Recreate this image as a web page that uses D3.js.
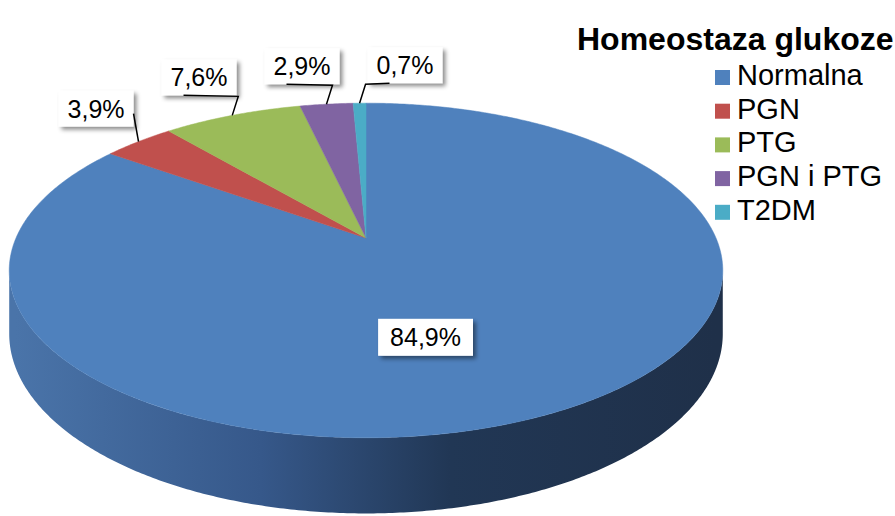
<!DOCTYPE html>
<html>
<head>
<meta charset="utf-8">
<script src="https://cdn.jsdelivr.net/npm/d3@7"></script>
<style>
  body { margin: 0; background: #fff; }
  svg { display: block; font-family: "Liberation Sans", Arial, sans-serif; }
</style>
</head>
<body>
<svg id="chart" width="895" height="516"></svg>
<script>
// chart data
var categories = ["Normalna", "PGN", "PTG", "PGN i PTG", "T2DM"];
var values = [84.9, 3.9, 7.6, 2.9, 0.7];
var labels = ["84,9%", "3,9%", "7,6%", "2,9%", "0,7%"];
var colors = ["#4f81bd", "#c0504d", "#9bbb59", "#8064a2", "#4bacc6"];
var title = "Homeostaza glukoze";

var svg = d3.select("#chart");

// 3d pie geometry (perspective tilt)
var cx = 366, cy = 238,
    rx = 350, ry = 161, depth = 61, k = 0.194;

// angle a: clockwise from 12 o'clock, r: 0..1 of radius, z: 0 top .. 1 bottom
function proj(a, r, z) {
  var u = r * Math.sin(a), v = -r * Math.cos(a);
  var s = 1 / (1 - k * v);
  return [cx + rx * u * s, cy + (ry * v + depth * (z || 0)) * s];
}

var pie = d3.pie().sort(null).value(function(d) { return d; });
var arcs = pie(values);

var line = d3.line();

function rim(a0, a1, z) {
  var n = Math.max(2, Math.ceil((a1 - a0) / (Math.PI / 360)));
  return d3.range(n + 1).map(function(i) { return proj(a0 + (a1 - a0) * i / n, 1, z); });
}

var defs = svg.append("defs");

var grad = defs.append("linearGradient")
    .attr("id", "side")
    .attr("gradientUnits", "userSpaceOnUse")
    .attr("x1", cx - rx).attr("x2", cx + rx)
    .attr("y1", 0).attr("y2", 0);
grad.append("stop").attr("offset", "0%").attr("stop-color", "#4a74a9");
grad.append("stop").attr("offset", "35%").attr("stop-color", "#36588a");
grad.append("stop").attr("offset", "62%").attr("stop-color", "#213755");
grad.append("stop").attr("offset", "100%").attr("stop-color", "#1f3049");

var shadow = defs.append("filter").attr("id", "shadow")
    .attr("x", "-20%").attr("y", "-20%").attr("width", "150%").attr("height", "160%");
shadow.append("feDropShadow")
    .attr("dx", 3).attr("dy", 3).attr("stdDeviation", 2)
    .attr("flood-color", "#000").attr("flood-opacity", 0.45);

// side wall (front part only is visible)
var aRight = Math.acos(-k), aLeft = 2 * Math.PI - Math.acos(-k);
var sidePts = rim(aRight, aLeft, 0).concat(rim(aRight, aLeft, 1).reverse());
svg.append("path")
    .attr("d", line(sidePts) + "Z")
    .attr("fill", "url(#side)");

// top faces
svg.selectAll("path.slice")
  .data(arcs)
  .enter().append("path")
    .attr("class", "slice")
    .attr("d", function(d) {
      return line([proj(0, 0, 0)].concat(rim(d.startAngle, d.endAngle, 0))) + "Z";
    })
    .attr("fill", function(d, i) { return colors[i]; })
    .attr("stroke", function(d, i) { return colors[i]; })
    .attr("stroke-width", 0.5);

// data labels
var fontSize = 25, padX = 9, boxH = 36;
var prevRight = -Infinity;

arcs.forEach(function(d, i) {
  var mid = (d.startAngle + d.endAngle) / 2;
  var g = svg.append("g");
  var rect = g.append("rect").attr("fill", "#fff").attr("filter", "url(#shadow)");
  var txt = g.append("text")
      .attr("font-size", fontSize)
      .attr("text-anchor", "middle")
      .attr("fill", "#000")
      .text(labels[i]);
  var w = txt.node().getComputedTextLength() + 2 * padX;

  if (d.value > 50) {
    var c = proj(mid, 0.35, 0.7);
    rect.attr("x", c[0] - w / 2 - 3).attr("y", c[1] - boxH / 2)
        .attr("width", w + 6).attr("height", boxH + 1);
    txt.attr("x", c[0]).attr("y", c[1] + 9);
    return;
  }

  var p = proj(mid, 1, 0);
  var top = [p[0] - 5, p[1] - 28];
  var right = top[0], left = right - w, bottom = top[1] + 13;
  var pts = [p, top];
  if (left < prevRight + 20) {
    // collides with the previous label: push it to the right
    left = prevRight + 28;
    right = left + w;
    bottom = p[1] - 20;
    pts = [p, [p[0] + 6, bottom + 1], [left + 22, bottom]];
  }
  prevRight = right;

  rect.attr("x", left).attr("y", bottom - boxH)
      .attr("width", w).attr("height", boxH);
  txt.attr("x", (left + right) / 2).attr("y", bottom - 9);

  svg.append("path")
      .attr("d", line(pts))
      .attr("fill", "none")
      .attr("stroke", "#000")
      .attr("stroke-width", 1.5);
});

// legend
svg.append("text")
    .attr("x", 577)
    .attr("y", 50)
    .attr("font-size", 32)
    .attr("font-weight", "bold")
    .attr("fill", "#000")
    .text(title);

var legend = svg.selectAll("g.legend")
  .data(categories)
  .enter().append("g")
    .attr("class", "legend")
    .attr("transform", function(d, i) { return "translate(715," + (85 + i * 33.7) + ")"; });

legend.append("rect")
    .attr("x", 0).attr("y", -15)
    .attr("width", 15).attr("height", 15)
    .attr("fill", function(d, i) { return colors[i]; });

legend.append("text")
    .attr("x", 22)
    .attr("y", 0)
    .attr("font-size", 29)
    .attr("fill", "#000")
    .text(function(d) { return d; });
</script>
</body>
</html>
